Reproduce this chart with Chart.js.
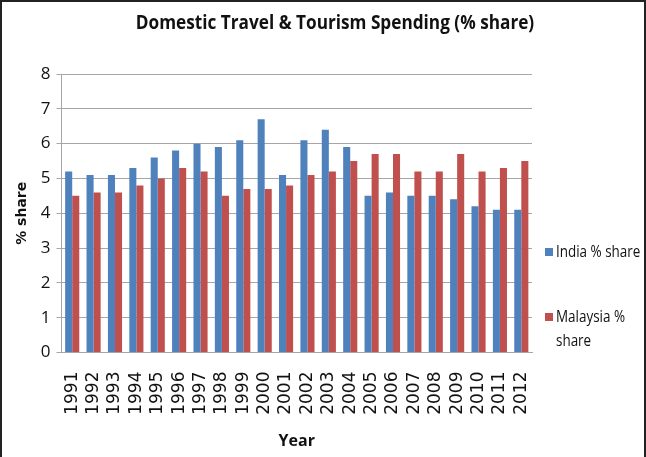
<!DOCTYPE html>
<html>
<head>
<meta charset="utf-8">
<script src="https://cdn.jsdelivr.net/npm/chart.js@4/dist/chart.umd.min.js"></script>
<style>
  html, body { margin: 0; padding: 0; background: #fff; }
  #wrap {
    position: relative;
    width: 646px;
    height: 457px;
    box-sizing: border-box;
    border: 2px solid #222;
    border-bottom: none;
  }
  canvas { display: block; }
</style>
</head>
<body>
<div id="wrap"><canvas id="spendChart" width="642" height="455"></canvas></div>
<script>
const YEARS = ['1991', '1992', '1993', '1994', '1995', '1996', '1997', '1998', '1999', '2000', '2001',
  '2002', '2003', '2004', '2005', '2006', '2007', '2008', '2009', '2010', '2011', '2012'];
const INDIA_SHARE = [5.2, 5.1, 5.1, 5.3, 5.6, 5.8, 6.0, 5.9, 6.1, 6.7, 5.1,
  6.1, 6.4, 5.9, 4.5, 4.6, 4.5, 4.5, 4.4, 4.2, 4.1, 4.1];
const MALAYSIA_SHARE = [4.5, 4.6, 4.6, 4.8, 5.0, 5.3, 5.2, 4.5, 4.7, 4.7, 4.8,
  5.1, 5.2, 5.5, 5.7, 5.7, 5.2, 5.2, 5.7, 5.2, 5.3, 5.5];
const Y_TICKS = [0, 1, 2, 3, 4, 5, 6, 7, 8];
const TITLE = 'Domestic Travel & Tourism Spending (% share)';

const BLUE = '#4f81bd';
const RED = '#c0504d';
const GRID = '#a6a6a6';
const SANS = '"Open Sans", sans-serif';

// squeezed text, to get a narrow face out of Open Sans
function narrowText(ctx, text, x, y, squeeze, align) {
  ctx.save();
  ctx.translate(x, y);
  ctx.scale(squeeze, 1);
  ctx.textAlign = align;
  ctx.fillText(text, 0, 0);
  ctx.restore();
}

// title and right-hand legend are drawn by hand
const decorations = {
  id: 'decorations',
  afterDraw(chart) {
    const { ctx, chartArea } = chart;
    ctx.save();
    ctx.textBaseline = 'middle';
    ctx.fillStyle = '#111';
    ctx.font = 'bold 20px ' + SANS;
    narrowText(ctx, TITLE, 333, 21, 0.86, 'center');

    const x = chartArea.right + 13;
    ctx.font = '16px ' + SANS;
    ctx.fillStyle = BLUE;
    ctx.fillRect(x, 246, 8, 8);
    ctx.fillStyle = '#111';
    narrowText(ctx, 'India % share', x + 11, 250, 0.84, 'left');
    ctx.fillStyle = RED;
    ctx.fillRect(x, 311, 8, 8);
    ctx.fillStyle = '#111';
    narrowText(ctx, 'Malaysia %', x + 11, 315, 0.84, 'left');
    narrowText(ctx, 'share', x + 11, 339, 0.84, 'left');
    ctx.restore();
  },
};

new Chart(document.getElementById('spendChart'), {
  type: 'bar',
  data: {
    labels: YEARS,
    datasets: [
      { label: 'India % share', data: INDIA_SHARE, backgroundColor: BLUE },
      { label: 'Malaysia % share', data: MALAYSIA_SHARE, backgroundColor: RED },
    ],
  },
  options: {
    responsive: false,
    animation: false,
    layout: { padding: { left: 8, right: 112, top: 72, bottom: 2 } },
    datasets: { bar: { categoryPercentage: 0.66, barPercentage: 1 } },
    plugins: {
      legend: { display: false },
      tooltip: { enabled: false },
      title: { display: false },
    },
    scales: {
      x: {
        grid: { display: false },
        border: { color: GRID },
        ticks: {
          color: '#111',
          minRotation: 90,
          maxRotation: 90,
          autoSkip: false,
          padding: 11,
          font: { family: '"DejaVu Sans"', size: 17 },
        },
        title: {
          display: true,
          text: 'Year',
          color: '#111',
          font: { family: SANS, size: 16, weight: 'bold' },
          padding: { top: 6 },
        },
      },
      y: {
        min: 0,
        max: 8,
        afterBuildTicks: (axis) => { axis.ticks = Y_TICKS.map((v) => ({ value: v })); },
        grid: { color: GRID, drawTicks: true, tickLength: 5 },
        border: { color: GRID },
        ticks: {
          color: '#111',
          padding: 6,
          font: { family: SANS, size: 17 },
        },
        title: {
          display: true,
          text: '% share',
          color: '#111',
          font: { family: '"DejaVu Sans"', size: 14, weight: 'bold' },
        },
      },
    },
  },
  plugins: [decorations],
});
</script>
</body>
</html>
